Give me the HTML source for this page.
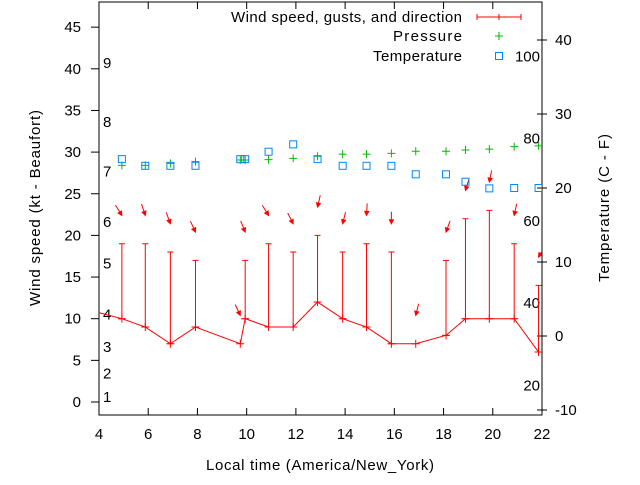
<!DOCTYPE html>
<html><head><meta charset="utf-8"><style>
body{margin:0;background:#fff}
svg text{font-family:"Liberation Sans",sans-serif;font-size:15px;fill:#000}
</style></head><body>
<svg id="chart" width="640" height="480" xmlns="http://www.w3.org/2000/svg">
<defs><clipPath id="pc"><rect x="99" y="2" width="443" height="413"/></clipPath></defs>
<g id="axes"></g>
<g id="marks" clip-path="url(#pc)"></g>
<g id="legend"></g>
</svg>
<script>
const times=[4.93,5.88,6.9,7.92,9.74,9.94,10.89,11.89,12.88,13.9,14.87,15.88,16.87,18.1,18.89,19.86,20.87,21.86];
const wind=[10,9,7,9,7,10,9,9,12,10,9,7,7,8,10,10,10,6];
const gust=[19,19,18,17,null,17,19,18,20,18,19,18,null,17,22,23,19,14];
const windDir=[328,342,340,335,335,338,328,333,13,14,3,0,14,20,17,11,12,31];
const pressure=[28.4,28.4,28.65,28.85,29.05,29.05,29.1,29.25,29.5,29.75,29.75,29.85,30.1,30.1,30.25,30.35,30.65,30.75];
const tempC=[23.9,23,23,23,23.9,23.9,24.9,25.9,23.9,23,23,23,21.85,21.85,20.85,19.95,20,20];
const xTicks=[4,6,8,10,12,14,16,18,20,22];
const yTicks=[0,5,10,15,20,25,30,35,40,45];
const y2Ticks=[-10,0,10,20,30,40];
const beaufort=[1,2,3,4,5,6,7,8,9];
const beaufortPos=[0.6,3.4,6.6,10.5,16.6,21.6,27.7,33.6,40.7];
const fahr=[20,40,60,80,100];

const NS='http://www.w3.org/2000/svg';
const X=t=>99+(t-4)*(443/18);
const Y=v=>402-v*8.33;
const Y2=c=>336-c*7.4;
function mk(tag,attrs,parent,txt){const e=document.createElementNS(NS,tag);for(const k in attrs)e.setAttribute(k,attrs[k]);if(txt!==undefined)e.textContent=txt;parent.appendChild(e);return e;}
const ax=document.getElementById('axes'),mg=document.getElementById('marks'),lg=document.getElementById('legend');
let f=mk('rect',{x:99,y:2,width:443,height:413,fill:'none',stroke:'#000','stroke-width':1},ax);

xTicks.forEach(t=>{const x=X(t);
 mk('line',{x1:x,y1:415,x2:x,y2:408,stroke:'#000'},ax);mk('line',{x1:x,y1:2,x2:x,y2:9,stroke:'#000'},ax);
 const l=mk('text',{x:x,y:439,'text-anchor':'middle'},ax,String(t));
 });
yTicks.forEach(v=>{const y=Y(v);mk('line',{x1:91,y1:y,x2:99,y2:y,stroke:'#000'},ax);
 const l=mk('text',{x:81,y:y+5,'text-anchor':'end'},ax,String(v));
 });
y2Ticks.forEach(v=>{const y=Y2(v);mk('line',{x1:537,y1:y,x2:547,y2:y,stroke:'#000'},ax);
 const l=mk('text',{x:555,y:y+5},ax,String(v));
 });
beaufort.forEach((b,i)=>{const l=mk('text',{x:103,y:Y(beaufortPos[i])+5},ax,String(b));
 });
fahr.forEach(F=>{const c=(F-32)*5/9;const l=mk('text',{x:540,y:Y2(c)+5,'text-anchor':'end'},ax,String(F));
 });
let t=mk('text',{x:320,y:470,'text-anchor':'middle',textLength:228},ax,'Local time (America/New_York)');

t=mk('text',{x:40,y:208,'text-anchor':'middle',transform:'rotate(-90 40 208)',textLength:196},ax,'Wind speed (kt - Beaufort)');

t=mk('text',{x:609,y:208,'text-anchor':'middle',transform:'rotate(-90 609 208)',textLength:148},ax,'Temperature (C - F)');


let pts=[[X(3.9),Y(10.8)]].concat(times.map((tt,i)=>[X(tt),Y(wind[i])]));
let pl=mk('polyline',{points:pts.map(p=>p.join(',')).join(' '),fill:'none',stroke:'#f00','stroke-width':1},mg);

times.forEach((tt,i)=>{const x=X(tt),y=Y(wind[i]);
 const m=mk('path',{d:`M${x-4},${y}h8M${x},${y-4}v8`,stroke:'#f00'},mg);
 
 let top=wind[i];
 if(gust[i]!==null){top=gust[i];const gy=Y(gust[i]);
  const b=mk('path',{d:`M${x},${y}V${gy}M${x-3},${gy}h6M${x-3},${y}h6`,stroke:'#f00'},mg);
  }
 const hy=Y(top+3.4),a=windDir[i]*Math.PI/180,dx=-Math.sin(a),dy=Math.cos(a),L=12;
 const tx=x-dx*L,ty=hy-dy*L,px=-dy,py=dx;
 const ar=mk('path',{d:`M${tx},${ty}L${x},${hy}M${x},${hy}L${x-dx*4+px*2},${hy-dy*4+py*2}L${x-dx*4-px*2},${hy-dy*4-py*2}Z`,stroke:'#f00',fill:'#f00','stroke-width':1},mg);
 
 const p=pressure[i],py2=Y(p);
 const pm=mk('path',{d:`M${x-4},${py2}h8M${x},${py2-4}v8`,stroke:'#0b0'},mg);
 
 const ty2=Y2(tempC[i]);
 const sq=mk('rect',{x:x-3.5,y:ty2-3.5,width:7,height:7,fill:'none',stroke:'#08f'},mg);
 
});
[['Wind speed, gusts, and direction',17,231],['Pressure',36,69],['Temperature',56,89]].forEach(([s,y,w])=>{
 const l=mk('text',{x:462,y:y+5,'text-anchor':'end',textLength:w},lg,s);
 });
mk('path',{d:'M477,17h44M477,14v6M521,14v6M499,14v6',stroke:'#f00'},lg);
mk('path',{d:'M495,36h8M499,32v8',stroke:'#0b0'},lg);
mk('rect',{x:495.5,y:52.5,width:7,height:7,fill:'none',stroke:'#08f'},lg);
</script>
</body></html>
